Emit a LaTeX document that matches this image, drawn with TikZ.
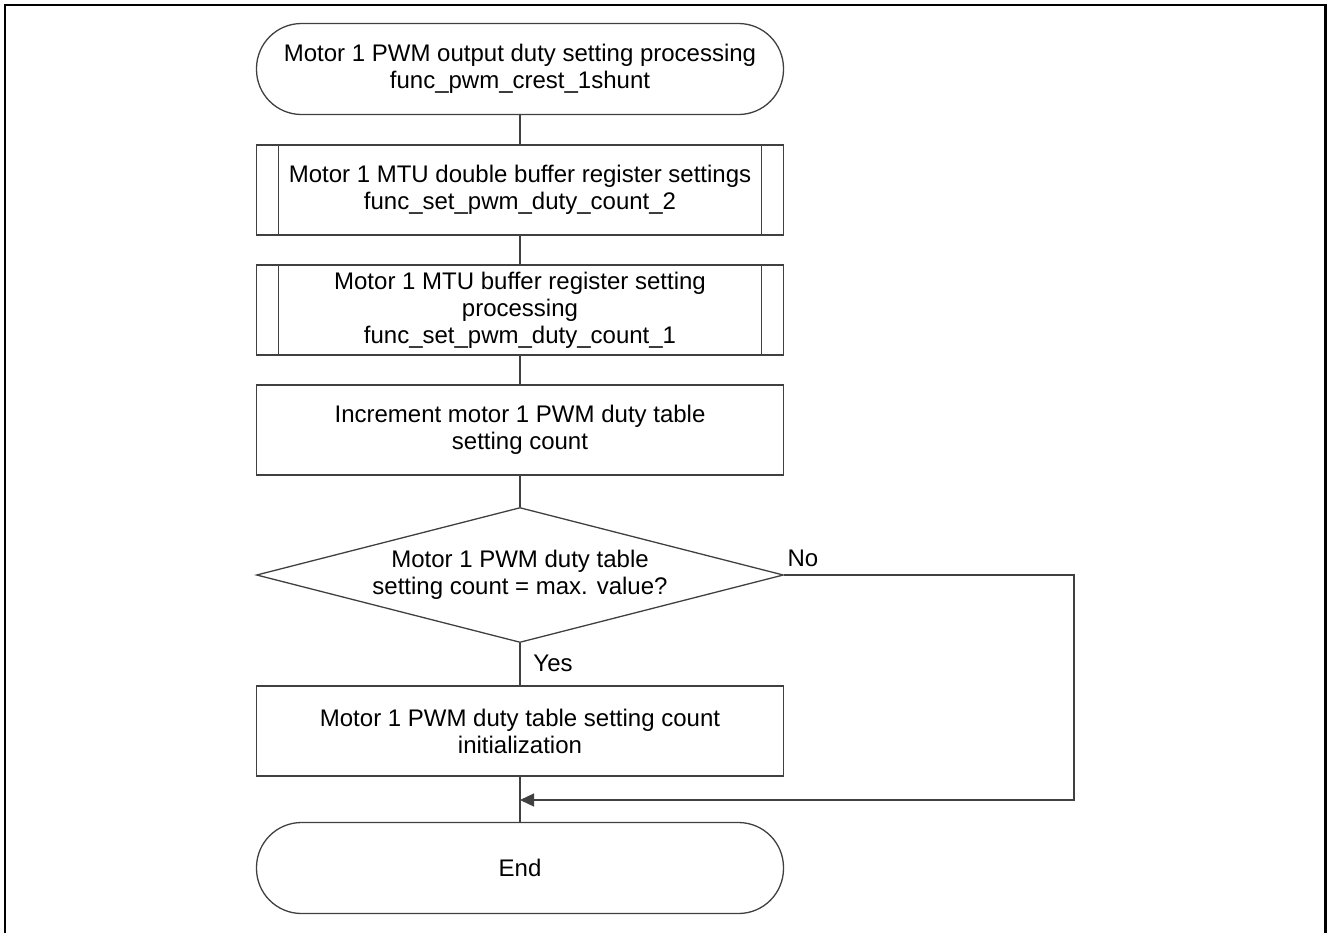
\documentclass[tikz,border=0pt]{standalone}
\usepackage{fontspec}
\setmainfont{Liberation Sans}
\usetikzlibrary{arrows.meta,shapes.geometric}
\begin{document}
\begin{tikzpicture}[x=1pt,y=-1pt,
  lineclr/.style={draw=black!75, line width=1.3pt},
  txt/.style={font=\fontsize{24}{27}\selectfont, align=center, text=black},
  termbox/.style={lineclr, txt, rectangle, rounded corners=45pt, minimum width=527pt, minimum height=91pt, inner sep=0pt},
  procbox/.style={lineclr, txt, rectangle, minimum width=527pt, minimum height=90pt, inner sep=0pt},
  decbox/.style={lineclr, txt, diamond, aspect=3.9, minimum width=527pt, minimum height=135pt, inner sep=0pt},
  conn/.style={lineclr},
  arr/.style={lineclr, -{Triangle[length=14pt,width=13pt]}},
  lbl/.style={font=\fontsize{24}{27}\selectfont, text=black, inner sep=0pt}]
\useasboundingbox (0,0) rectangle (1328,932);
\draw[line width=2.2pt, black] (5,940) -- (5,5) -- (1325.5,5) -- (1325.5,940);

\node[termbox] (start) at (520,69) {Motor 1 PWM output duty setting processing\\func\_pwm\_crest\_1shunt};
\node[procbox] (p1) at (520,190) {Motor 1 MTU double buffer register settings\\func\_set\_pwm\_duty\_count\_2};
\node[procbox] (p2) at (520,310) {Motor 1 MTU buffer register setting\\processing\\func\_set\_pwm\_duty\_count\_1};
\node[procbox] (inc) at (520,430) {Increment motor 1 PWM duty table\\setting count};
\node[decbox] (dec) at (520,575) {Motor 1 PWM duty table\\setting count = max. value?};
\node[procbox] (init) at (520,731) {Motor 1 PWM duty table setting count\\initialization};
\node[termbox] (end) at (520,868) {End};

\foreach \n in {p1,p2}{
  \draw[lineclr] ([xshift=22.5pt]\n.north west) -- ([xshift=22.5pt]\n.south west);
  \draw[lineclr] ([xshift=-22.5pt]\n.north east) -- ([xshift=-22.5pt]\n.south east);
}

\coordinate (merge) at (520,800);
\coordinate (c1) at (1074,575);
\coordinate (c2) at (1074,800);

\draw[conn] (start) -- (p1);
\draw[conn] (p1) -- (p2);
\draw[conn] (p2) -- (inc);
\draw[conn] (inc) -- (dec);
\draw[conn] (dec) -- (init);
\draw[conn] (init) -- (end);
\draw[arr] (dec.east) -- (c1) -- (c2) -- (merge);

\node[lbl] (no) at (803,558) {No};
\node[lbl] (yes) at (553,663) {Yes};
\end{tikzpicture}
\end{document}
